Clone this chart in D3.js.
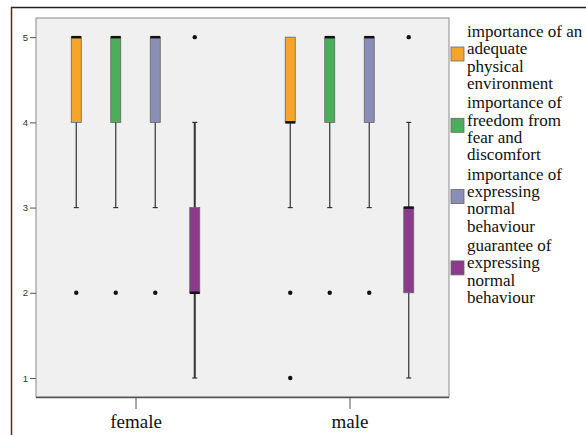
<!DOCTYPE html>
<html>
<head>
<meta charset="utf-8">
<script src="https://cdn.jsdelivr.net/npm/d3@7"></script>
<style>
  body { margin: 0; background: #fff; }
</style>
</head>
<body>
<div id="chart"></div>
<script>
// groups and series
const groups = ['female', 'male'];
const seriesNames = [
  'importance of an adequate physical environment',
  'importance of freedom from fear and discomfort',
  'importance of expressing normal behaviour',
  'guarantee of expressing normal behaviour'
];
const legendLines = [
  ['importance of an', 'adequate', 'physical', 'environment'],
  ['importance of', 'freedom from', 'fear and', 'discomfort'],
  ['importance of', 'expressing', 'normal', 'behaviour'],
  ['guarantee of', 'expressing', 'normal', 'behaviour']
];
const colors = ['#f5a62a', '#4bae5a', '#8a8db5', '#8c3a8c'];
const yTicks = [1, 2, 3, 4, 5];

// [whiskerLow, q1, median, q3, whiskerHigh] per group, per series
const femaleStats = [[3, 4, 5, 5, 5], [3, 4, 5, 5, 5], [3, 4, 5, 5, 5], [1, 2, 2, 3, 4]];
const maleStats = [[3, 4, 4, 5, 5], [3, 4, 5, 5, 5], [3, 4, 5, 5, 5], [1, 2, 3, 3, 4]];
const femaleOutliers = [[2], [2], [2], [5]];
const maleOutliers = [[2, 1], [2], [2], [5]];

const statsByGroup = { female: femaleStats, male: maleStats };
const outliersByGroup = { female: femaleOutliers, male: maleOutliers };

const W = 586, H = 435;
const plot = { left: 36, top: 18, right: 449, bottom: 397 };

const svg = d3.select('#chart').append('svg')
  .attr('width', W).attr('height', H);

// outer frame lines
svg.append('line').attr('x1', 11).attr('x2', W).attr('y1', 7.5).attr('y2', 7.5)
  .attr('stroke', '#222').attr('stroke-width', 1.5);
svg.append('line').attr('x1', 11.5).attr('x2', 11.5).attr('y1', 7).attr('y2', H)
  .attr('stroke', '#6b1f1f').attr('stroke-width', 1.5);

// plot background
svg.append('rect')
  .attr('x', plot.left).attr('y', plot.top)
  .attr('width', plot.right - plot.left).attr('height', plot.bottom - plot.top)
  .attr('fill', '#f0f0f0').attr('stroke', '#8a8a8a').attr('stroke-width', 1);

const y = d3.scaleLinear().domain([0.777, 5.225]).range([plot.bottom, plot.top]);
const x = d3.scalePoint().domain(groups).range([plot.left, plot.right]).padding(0.465);
const xs = d3.scaleBand().domain(seriesNames).range([-79, 79]);
const boxW = 10;

// y axis
const yAxis = svg.append('g')
  .attr('transform', `translate(${plot.left},0)`)
  .call(d3.axisLeft(y).tickValues(yTicks).tickSize(6).tickFormat(d3.format('d')));
yAxis.select('.domain').remove();
yAxis.selectAll('line').attr('stroke', '#555');
yAxis.selectAll('text')
  .attr('font-family', 'Arial, Liberation Sans, sans-serif')
  .attr('font-size', 9.5).attr('fill', '#333').attr('x', -8);

// x axis
const xAxis = svg.append('g')
  .attr('transform', `translate(0,${plot.bottom})`)
  .call(d3.axisBottom(x).tickSize(12).tickSizeOuter(0));
xAxis.select('.domain').attr('stroke', '#555').attr('stroke-width', 1.5)
  .attr('d', `M${plot.left},0.5H${plot.right}`);
xAxis.selectAll('line').attr('stroke', '#555');
xAxis.selectAll('text')
  .attr('font-family', 'Times New Roman, Liberation Serif, serif')
  .attr('font-size', 19).attr('fill', '#111').attr('y', 18).attr('dy', '0.71em');

// boxes
groups.forEach(g => {
  seriesNames.forEach((s, i) => {
    const [lo, q1, med, q3, hi] = statsByGroup[g][i];
    const cx = x(g) + xs(s) + xs.bandwidth() / 2;
    const el = svg.append('g');
    // whisker
    el.append('line').attr('x1', cx).attr('x2', cx).attr('y1', y(lo)).attr('y2', y(hi))
      .attr('stroke', '#333').attr('stroke-width', i === 3 && g === 'female' ? 2 : 1.2);
    [lo, hi].forEach(v => {
      if (v === q1 || v === q3) return;
      el.append('line').attr('x1', cx - 2.5).attr('x2', cx + 2.5).attr('y1', y(v)).attr('y2', y(v))
        .attr('stroke', '#333').attr('stroke-width', 1.2);
    });
    el.append('rect')
      .attr('x', cx - boxW / 2).attr('y', y(q3))
      .attr('width', boxW).attr('height', y(q1) - y(q3))
      .attr('fill', colors[i]).attr('stroke', '#666').attr('stroke-width', 0.8);
    el.append('line').attr('x1', cx - boxW / 2).attr('x2', cx + boxW / 2)
      .attr('y1', y(med)).attr('y2', y(med))
      .attr('stroke', '#111').attr('stroke-width', 2.5);
    outliersByGroup[g][i].forEach(v => {
      el.append('circle').attr('cx', cx).attr('cy', y(v)).attr('r', 2.2).attr('fill', '#111');
    });
  });
});

// legend
const legend = svg.append('g');
legendLines.forEach((lines, i) => {
  const top = 31 + i * 71.3;
  legend.append('rect')
    .attr('x', 451).attr('y', top + 16).attr('width', 13).attr('height', 14)
    .attr('fill', colors[i]).attr('stroke', '#666').attr('stroke-width', 0.8);
  lines.forEach((t, j) => {
    legend.append('text')
      .attr('x', 467).attr('y', top + j * 17.4)
      .attr('dy', '0.35em')
      .attr('font-family', 'Times New Roman, Liberation Serif, serif')
      .attr('font-size', 17).attr('fill', '#111')
      .text(t);
  });
});
</script>
</body>
</html>
